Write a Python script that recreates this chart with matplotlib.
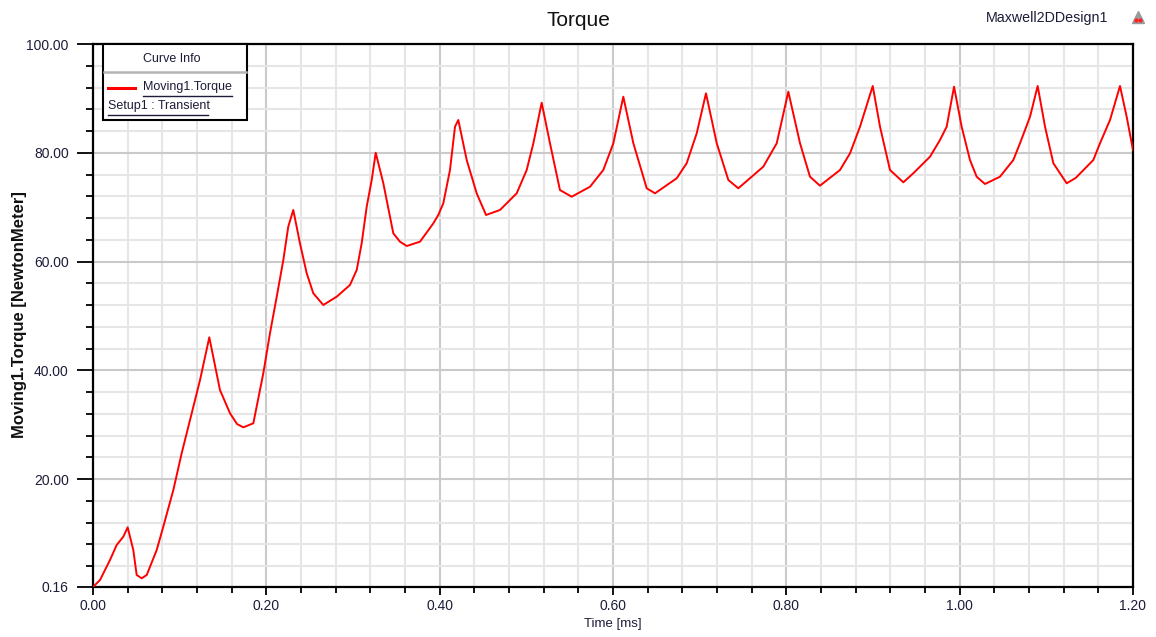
import matplotlib
matplotlib.use('Agg')
import matplotlib.pyplot as plt
from matplotlib.ticker import FixedLocator, FormatStrFormatter
from matplotlib.patches import Rectangle
from matplotlib.lines import Line2D

plt.rcParams['font.family'] = ['Liberation Sans', 'DejaVu Sans']

# ---- data ----
time_ms = [0.0000, 0.0081, 0.0196, 0.0273, 0.0350, 0.0400, 0.0465, 0.0504, 0.0562, 0.0620,
           0.0735, 0.0811, 0.0927, 0.1023, 0.1100, 0.1235, 0.1342, 0.1465, 0.1581, 0.1662,
           0.1734, 0.1850, 0.1965, 0.2042, 0.2120, 0.2196, 0.2253, 0.2311, 0.2388, 0.2466,
           0.2542, 0.2657, 0.2812, 0.2965, 0.3043, 0.3100, 0.3158, 0.3216, 0.3262, 0.3350,
           0.3465, 0.3542, 0.3620, 0.3773, 0.3927, 0.3984, 0.4042, 0.4119, 0.4177, 0.4215,
           0.4312, 0.4427, 0.4535, 0.4696, 0.4889, 0.5004, 0.5081, 0.5177, 0.5273, 0.5388,
           0.5523, 0.5735, 0.5888, 0.6004, 0.6119, 0.6235, 0.6389, 0.6485, 0.6735, 0.6850,
           0.6966, 0.7073, 0.7197, 0.7331, 0.7446, 0.7734, 0.7889, 0.8023, 0.8158, 0.8273,
           0.8388, 0.8619, 0.8735, 0.8850, 0.8997, 0.9081, 0.9196, 0.9350, 0.9465, 0.9658,
           0.9773, 0.9850, 0.9935, 1.0023, 1.0119, 1.0196, 1.0292, 1.0465, 1.0619, 1.0696,
           1.0812, 1.0900, 1.0985, 1.1081, 1.1235, 1.1338, 1.1542, 1.1619, 1.1735, 1.1850,
           1.1927, 1.2000]
torque = [0.16, 1.45, 5.12, 7.88, 9.41, 11.14, 6.96, 2.37, 1.76, 2.37,
          6.96, 11.25, 18.00, 24.74, 29.63, 38.22, 46.07, 36.38, 32.10, 30.13,
          29.52, 30.26, 39.45, 46.81, 53.54, 60.28, 66.41, 69.48, 63.35, 57.84,
          54.16, 52.01, 53.54, 55.69, 58.45, 63.35, 70.08, 74.99, 80.01, 74.39,
          65.19, 63.65, 62.86, 63.65, 67.03, 68.56, 70.71, 76.83, 84.79, 86.03,
          78.67, 72.55, 68.56, 69.48, 72.55, 76.83, 81.74, 89.21, 81.74, 73.15,
          71.92, 73.76, 76.83, 81.74, 90.31, 81.74, 73.47, 72.55, 75.31, 78.07,
          83.58, 90.93, 81.74, 74.99, 73.47, 77.44, 81.74, 91.23, 81.74, 75.60,
          73.95, 76.83, 79.90, 84.79, 92.28, 84.79, 76.83, 74.57, 76.23, 79.28,
          82.35, 84.79, 92.15, 84.79, 78.67, 75.60, 74.26, 75.60, 78.67, 81.74,
          86.63, 92.28, 84.79, 78.07, 74.39, 75.36, 78.67, 81.74, 86.03, 92.28,
          86.63, 80.50]

x_major = [0.0, 0.2, 0.4, 0.6, 0.8, 1.0, 1.2]
x_minor = [0.04, 0.08, 0.12, 0.16, 0.24, 0.28, 0.32, 0.36, 0.44, 0.48, 0.52, 0.56,
           0.64, 0.68, 0.72, 0.76, 0.84, 0.88, 0.92, 0.96, 1.04, 1.08, 1.12, 1.16]
y_major = [0.16, 20.0, 40.0, 60.0, 80.0, 100.0]
y_minor = [4, 8, 12, 16, 24, 28, 32, 36, 44, 48, 52, 56, 64, 68, 72, 76, 84, 88, 92, 96]

title = "Torque"
design_name = "Maxwell2DDesign1"
x_label = "Time [ms]"
y_label = "Moving1.Torque [NewtonMeter]"
series_name = "Moving1.Torque"
setup_name = "Setup1 : Transient"

W, H = 1156, 637
fig = plt.figure(figsize=(W / 100, H / 100), dpi=100)
fig.patch.set_facecolor('white')


def fx(px):
    return px / W


def fy(py):
    return 1 - py / H


ax = fig.add_axes([fx(93), fy(587), fx(1133) - fx(93), fy(44) - fy(587)])
ax.set_xlim(0, 1.2)
ax.set_ylim(0.16, 100)

ax.xaxis.set_major_locator(FixedLocator(x_major))
ax.xaxis.set_minor_locator(FixedLocator(x_minor))
ax.yaxis.set_major_locator(FixedLocator(y_major))
ax.yaxis.set_minor_locator(FixedLocator(y_minor))
ax.xaxis.set_major_formatter(FormatStrFormatter('%.2f'))
ax.yaxis.set_major_formatter(FormatStrFormatter('%.2f'))

ax.set_axisbelow(True)
ax.grid(which='minor', color='#e6e6e6', linewidth=1.5)
ax.grid(which='major', color='#cacaca', linewidth=1.5)

ax.plot(time_ms, torque, color='#ff0000', linewidth=1.4, zorder=3, clip_on=True)

for s in ax.spines.values():
    s.set_color('black')
    s.set_linewidth(1.6)

lab_color = '#1c1c38'
ax.tick_params(axis='y', which='major', direction='out', length=11.5, width=1.3,
               pad=6, labelsize=10, labelcolor=lab_color)
ax.tick_params(axis='y', which='minor', direction='out', length=5, width=1.3)
ax.tick_params(axis='x', which='major', direction='out', length=5.5, width=1.3,
               pad=3, labelsize=10, labelcolor=lab_color)
ax.tick_params(axis='x', which='minor', direction='out', length=4, width=1.3)

ax.set_xlabel(x_label, fontsize=9.5, color=lab_color, labelpad=4)
fig.text(fx(20), fy(315), y_label, rotation=90, fontsize=12, fontweight='bold',
         ha='center', va='center', color='#111111')

fig.text(0.5, fy(21), title, fontsize=15, ha='center', va='center', color='#111111')
fig.text(fx(1047), fy(18), design_name, fontsize=10.3, ha='center', va='center',
         color='#1c1c38')
# small icon at top right
fig.add_artist(Line2D([fx(1138)], [fy(17)], marker='^', markersize=8,
                      color='#9a9a9a', transform=fig.transFigure))
fig.add_artist(Line2D([fx(1136), fx(1140)], [fy(20), fy(20)], marker='o', markersize=2,
                      linestyle='none', color='#ff2020', transform=fig.transFigure))

# ---- "Curve Info" box ----
bx0, by0, bx1, by1 = 103, 44, 247, 120
fig.add_artist(Rectangle((fx(bx0), fy(by1)), fx(bx1) - fx(bx0), fy(by0) - fy(by1),
                         transform=fig.transFigure, facecolor='white',
                         edgecolor='black', linewidth=1.5, zorder=5))
fig.add_artist(Line2D([fx(bx0 + 1), fx(bx1 - 1)], [fy(72), fy(72)], color='#b4b4b4',
                      linewidth=1.8, transform=fig.transFigure, zorder=6))
fig.text(fx(172), fy(59), "Curve Info", fontsize=9, ha='center', va='center',
         color='#1c1c38', zorder=6)
fig.add_artist(Line2D([fx(108), fx(135)], [fy(87.5), fy(87.5)], color='#ff0000',
                      linewidth=2.2, transform=fig.transFigure, zorder=6))
fig.text(fx(143), fy(87), series_name, fontsize=9, ha='left', va='center',
         color='#1c1c38', zorder=6)
fig.add_artist(Line2D([fx(143), fx(232)], [fy(95.5), fy(95.5)], color='#1c1c38',
                      linewidth=1.0, transform=fig.transFigure, zorder=6))
fig.text(fx(108), fy(106), setup_name, fontsize=9, ha='left', va='center',
         color='#1c1c38', zorder=6)
fig.add_artist(Line2D([fx(108), fx(208)], [fy(115), fy(115)], color='#1c1c38',
                      linewidth=1.0, transform=fig.transFigure, zorder=6))

fig.savefig('out.png', dpi=100, facecolor='white')
